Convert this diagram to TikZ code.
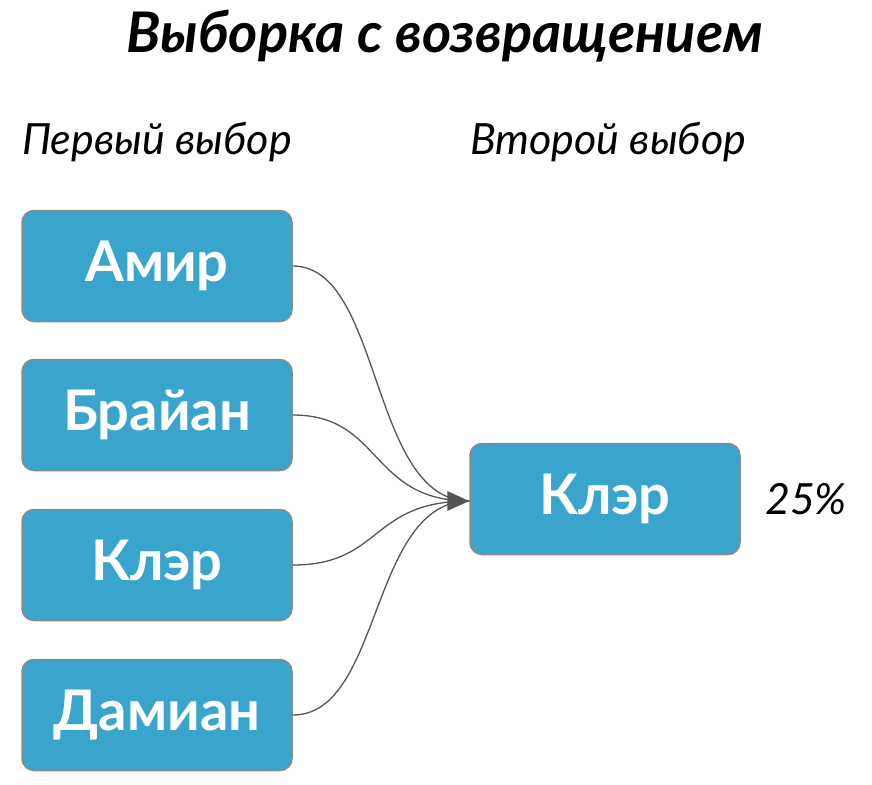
\documentclass[tikz,border=0pt]{standalone}
\usepackage{fontspec}
\setmainfont{Lato}
\usetikzlibrary{arrows.meta}
\definecolor{boxblue}{HTML}{3AA5CC}
\definecolor{boxedge}{HTML}{8A8A8A}
\definecolor{linec}{HTML}{555555}
\begin{document}
\begin{tikzpicture}[x=1pt,y=-1pt,
  box/.style={draw=boxedge,line width=1.5pt,fill=boxblue,rounded corners=12pt,minimum width=270pt,minimum height=111pt,text=white,font=\fontsize{56}{62}\selectfont\bfseries,inner sep=0pt},
  lbl/.style={font=\fontsize{43}{48}\selectfont\itshape,text=black},
  conn/.style={draw=linec,line width=1.3pt}]
\useasboundingbox (0,0) rectangle (872,784);
\node[font=\fontsize{56}{62}\selectfont\bfseries\itshape] (title) at (445,36) {Выборка с возвращением};
\node[lbl] (l1) at (157,142) {Первый выбор};
\node[lbl] (l2) at (608,142) {Второй выбор};
\node[box] (a) at (157,266) {Амир};
\node[box] (b) at (157,415) {Брайан};
\node[box] (c) at (157,565) {Клэр};
\node[box] (d) at (157,715) {Дамиан};
\node[box] (k) at (605,499) {Клэр};
\node[lbl] (p) at (806,499) {25\%};
\coordinate (t) at ([yshift=-2pt]k.west);
\foreach \n in {a,b,c,d}
  \draw[conn] (\n.east) .. controls +(90,0) and +(-100,0) .. (t);
\fill[linec] (t) -- ++(-22,-10) -- ++(0,20) -- cycle;
\end{tikzpicture}
\end{document}
